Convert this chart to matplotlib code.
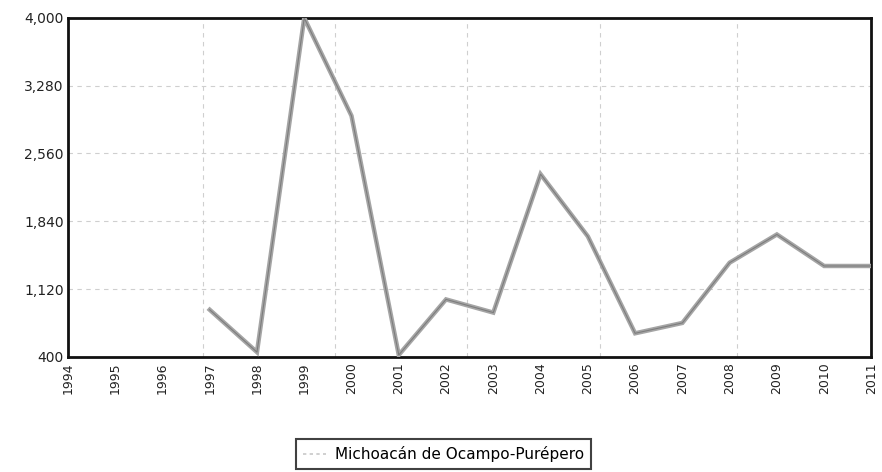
import matplotlib
matplotlib.use("Agg")
import matplotlib.pyplot as plt
from matplotlib.ticker import FuncFormatter

years = list(range(1994, 2012))
values = [None, None, None, 900, 450, 4000, 2960, 420, 1010, 870, 2340, 1680,
          650, 760, 1400, 1700, 1365, 1365]
yticks = [400, 1120, 1840, 2560, 3280, 4000]
series_name = "Michoacán de Ocampo-Purépero"

xs = [y for y, v in zip(years, values) if v is not None]
vs = [v for v in values if v is not None]

fig = plt.figure(figsize=(8.82, 4.72), dpi=100)
ax = fig.add_axes([0.077, 0.244, 0.911, 0.718])

# faint dashed grid
for t in yticks[1:-1]:
    ax.axhline(t, color="#cfcfcf", lw=0.8, ls=(0, (4, 4)), zorder=0)
for gx in [1996.85, 1999.65, 2002.45, 2005.25, 2008.15]:
    ax.axvline(gx, color="#cfcfcf", lw=0.8, ls=(0, (4, 4)), zorder=0)

ax.plot(xs, vs, color="#a5a5a5", lw=3.2, solid_joinstyle="miter", zorder=3)
ax.plot(xs, vs, color="#555555", lw=0.8, alpha=0.5, zorder=4)

ax.set_xlim(1994, 2011)
ax.set_ylim(400, 4000)
ax.set_yticks(yticks)
ax.yaxis.set_major_formatter(FuncFormatter(lambda v, p: f"{int(v):,}"))
ax.set_xticks(years)
ax.set_xticklabels([str(y) for y in years], rotation=90)
ax.tick_params(axis="y", length=0, labelsize=10, colors="#222222", pad=3)
ax.tick_params(axis="x", length=0, labelsize=9, colors="#222222", pad=4)
for s in ax.spines.values():
    s.set_linewidth(2.0)
    s.set_color("#111111")

leg_handle = plt.Line2D([], [], color="#c8c8c8", lw=1.2, ls=(0, (2, 2)))
leg = fig.legend([leg_handle], [series_name], loc="center",
                 bbox_to_anchor=(0.503, 0.038), frameon=True, fancybox=False,
                 fontsize=11, handlelength=1.5, borderpad=0.45, handletextpad=0.6)
leg.get_frame().set_edgecolor("#111111")
leg.get_frame().set_linewidth(1.5)

fig.savefig("out.png", dpi=100)
